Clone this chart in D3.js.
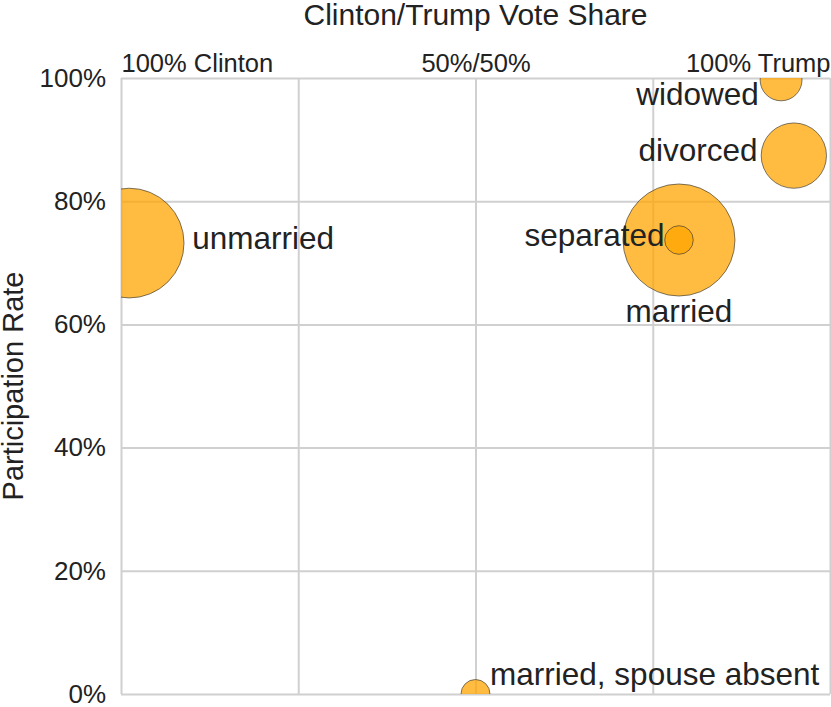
<!DOCTYPE html>
<html>
<head>
<meta charset="utf-8">
<script src="https://cdn.jsdelivr.net/npm/d3@7"></script>
<style>
  body { margin: 0; background: #fff; }
  svg { display: block; font-family: "Liberation Sans", Arial, sans-serif; }
  .grid line { stroke: #d0d0d0; stroke-width: 2px; }
  .grid path { display: none; }
  .bubble { fill: #ffa500; fill-opacity: 0.75; stroke: #333; stroke-opacity: 0.8; stroke-width: 0.8px; }
  .label { fill: #222; font-size: 31.5px; }
</style>
</head>
<body>
<div id="chart"></div>
<script>
// marital status groups
const groups = [`unmarried`, `married`, `separated`, `divorced`, `widowed`, `married, spouse absent`];
// vote share: -1 = 100% Clinton, 1 = 100% Trump
const voteShare = [-0.977, 0.574, 0.574, 0.898, 0.862, 0.0];
const participation = [0.732, 0.737, 0.737, 0.874, 0.997, 0.0];
const groupSize = [96, 100, 6.5, 34, 14, 6.7];
const labelSide = [`right`, `below`, `left`, `left`, `left`, `right`];

const xTickValues = [-1, -0.5, 0, 0.5, 1];
const xTickLabels = [`100% Clinton`, ``, `50%/50%`, ``, `100% Trump`];
const yTickValues = [0, 0.2, 0.4, 0.6, 0.8, 1];

const margin = { top: 78, right: 1, bottom: 13, left: 121 };
const width = 831 - margin.left - margin.right;
const height = 707 - margin.top - margin.bottom;

const svg = d3.select(`#chart`).append(`svg`)
    .attr(`width`, 831)
    .attr(`height`, 707);

const g = svg.append(`g`)
    .attr(`transform`, `translate(${margin.left},${margin.top})`);

const x = d3.scaleLinear().domain([-1, 1]).range([0, width]);
const y = d3.scaleLinear().domain([0, 1]).range([height, 0]);
const r = d3.scaleSqrt().domain([0, d3.max(groupSize)]).range([0, 56]);

// gridlines + tick labels
const xAxis = g.append(`g`)
    .attr(`class`, `grid`)
    .call(d3.axisTop(x)
      .tickValues(xTickValues)
      .tickSize(-height)
      .tickPadding(6)
      .tickFormat((d, i) => xTickLabels[i]));
xAxis.selectAll(`text`)
    .style(`font-size`, `25.5px`)
    .attr(`text-anchor`, (d, i) => i === 0 ? `start` : (i === xTickValues.length - 1 ? `end` : `middle`));

const yAxis = g.append(`g`)
    .attr(`class`, `grid`)
    .call(d3.axisLeft(y)
      .tickValues(yTickValues)
      .tickSize(-width)
      .tickPadding(15)
      .tickFormat(d3.format(`.0%`)));
yAxis.selectAll(`text`).style(`font-size`, `26px`);
g.selectAll(`.tick text`).attr(`fill`, `#222`);

// titles
svg.append(`text`)
    .attr(`x`, margin.left + width / 2)
    .attr(`y`, 25)
    .attr(`text-anchor`, `middle`)
    .attr(`fill`, `#222`)
    .style(`font-size`, `30px`)
    .text(`Clinton/Trump Vote Share`);

svg.append(`text`)
    .attr(`transform`, `translate(23,${margin.top + height / 2}) rotate(-90)`)
    .attr(`text-anchor`, `middle`)
    .attr(`fill`, `#222`)
    .style(`font-size`, `29px`)
    .text(`Participation Rate`);

// bubbles, clipped to the plot area
g.append(`clipPath`).attr(`id`, `plot-clip`)
  .append(`rect`)
    .attr(`width`, width)
    .attr(`height`, height);

const data = groups.map((name, i) => ({
  name,
  x: voteShare[i],
  y: participation[i],
  size: groupSize[i],
  side: labelSide[i]
}));

g.append(`g`)
    .attr(`clip-path`, `url(#plot-clip)`)
  .selectAll(`circle`)
  .data(data)
  .enter().append(`circle`)
    .attr(`class`, `bubble`)
    .attr(`cx`, (d) => x(d.x))
    .attr(`cy`, (d) => y(d.y))
    .attr(`r`, (d) => r(d.size));

// labels
const fs = 31.5;
g.selectAll(`.label`)
  .data(data)
  .enter().append(`text`)
    .attr(`class`, `label`)
    .attr(`text-anchor`, (d) => d.side === `left` ? `end` : (d.side === `right` ? `start` : `middle`))
    .attr(`x`, (d) => {
      const rad = r(d.size);
      const gap = Math.max(0, (rad - 14) * 0.2);
      if (d.side === `left`) return x(d.x) - rad - gap;
      if (d.side === `right`) return x(d.x) + rad + gap;
      return x(d.x);
    })
    .attr(`y`, (d) => {
      const rad = r(d.size);
      let yy = d.side === `below` ? y(d.y) + rad + fs * 0.82 : y(d.y) + fs * 0.18;
      yy = Math.max(yy, fs * 0.86);
      yy = Math.min(yy, height - fs * 0.28);
      return yy;
    })
    .text((d) => d.name);
</script>
</body>
</html>
